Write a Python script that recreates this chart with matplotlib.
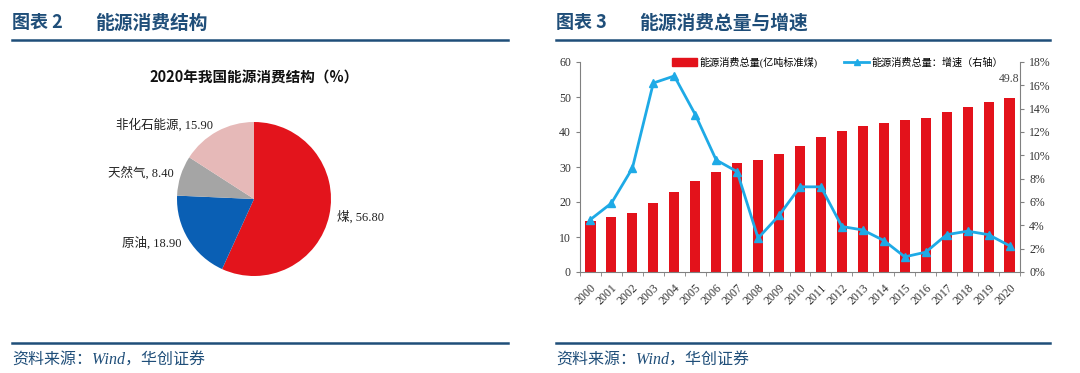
import numpy as np
import matplotlib.pyplot as plt
from matplotlib.lines import Line2D
from matplotlib.patches import Patch
from matplotlib.ticker import FuncFormatter, MultipleLocator

# Pie data: 2020 energy consumption structure (%)
pie_names = ['煤', '原油', '天然气', '非化石能源']
pie_values = [56.80, 18.90, 8.40, 15.90]
pie_colors = ['#E3141C', '#0A5FB4', '#A5A5A5', '#E6B9B8']

# Bar/line data: total consumption and growth
years = [str(y) for y in range(2000, 2021)]
total = [14.7, 15.6, 16.9, 19.7, 23.0, 26.1, 28.6, 31.1, 32.1, 33.6, 36.1,
         38.7, 40.2, 41.7, 42.6, 43.4, 44.1, 45.6, 47.1, 48.7, 49.8]
growth = [4.5, 5.9, 8.9, 16.2, 16.8, 13.5, 9.6, 8.6, 2.9, 4.85, 7.3,
          7.3, 3.9, 3.6, 2.7, 1.3, 1.7, 3.2, 3.5, 3.2, 2.25]

W, H = 1080, 373
NAVY = '#1F4E79'
CJK = ['Noto Sans CJK SC', 'DejaVu Sans']
SERIF = ['Liberation Serif', 'Noto Sans CJK SC']

fig = plt.figure(figsize=(W / 100, H / 100), dpi=100)


def fx(px):
    return px / W


def fy(py):
    return 1 - py / H


# Panel headers, rules and sources
for x0, x1, num, title in [(12, 508, '图表 2', '能源消费结构'),
                           (556, 1050, '图表 3', '能源消费总量与增速')]:
    fig.text(fx(x0), fy(23), num, fontsize=13, weight='bold', color=NAVY,
             family=CJK, va='center')
    fig.text(fx(x0 + 83), fy(23), title, fontsize=13.5, weight='bold',
             color=NAVY, family=CJK, va='center')
    for yy in (39.5, 342.5):
        fig.add_artist(Line2D([fx(x0), fx(x1)], [fy(yy), fy(yy)],
                              transform=fig.transFigure, color=NAVY, lw=1.8))
    fig.text(fx(x0), fy(361), '资料来源：Wind，华创证券', fontsize=11.5,
             style='italic', color=NAVY, family=SERIF, va='center')

# Pie chart
cx, cy, r = 254, 199, 77
axp = fig.add_axes([fx(cx - r), fy(cy + r), (2 * r) / W, (2 * r) / H])
labels = [f'{n}, {v:.2f}' for n, v in zip(pie_names, pie_values)]
axp.pie(pie_values, colors=pie_colors, startangle=90, counterclock=False,
        labels=labels, labeldistance=1.1,
        textprops=dict(fontsize=9, family=SERIF, color='#222222'))
axp.set_xlim(-1, 1)
axp.set_ylim(-1, 1)
axp.set_aspect('equal')
fig.text(fx(254), fy(78), '2020年我国能源消费结构（%）', fontsize=10.5,
         weight='bold', family=CJK, ha='center', va='center', color='#111111')

# Bar + line chart
ax = fig.add_axes([fx(580), fy(272), (1020 - 580) / W, (272 - 62) / H])
x = np.arange(len(years))
ax.bar(x, total, width=0.48, color='#E3121B', zorder=2)
ax.set_xlim(-0.5, len(years) - 0.5)
ax.set_ylim(0, 60)
ax.yaxis.set_major_locator(MultipleLocator(10))
ax.set_xticks(x)
ax.set_xticklabels(years, rotation=45, ha='right', rotation_mode='anchor',
                   fontsize=8.5, family=SERIF, color='#333333')
ax.set_xticks(np.arange(-0.5, len(years), 1), minor=True)
ax.tick_params(axis='x', which='major', length=0, pad=7)
ax.tick_params(axis='x', which='minor', length=3, color='#808080')
ax.tick_params(axis='y', length=3, color='#808080', labelsize=8.5,
               labelcolor='#333333')
for lab in ax.get_yticklabels():
    lab.set_family(SERIF)
for s in ('top', 'right'):
    ax.spines[s].set_visible(False)
for s in ('left', 'bottom'):
    ax.spines[s].set_color('#808080')
ax.annotate(f'{total[-1]}', (x[-1], total[-1]), xytext=(0, 9),
            textcoords='offset points', ha='center', va='bottom',
            fontsize=8.5, family=SERIF, color='#444444')

ax2 = ax.twinx()
ax2.plot(x, growth, color='#1EAAE6', lw=2, marker='^', ms=6, zorder=3)
ax2.set_ylim(0, 18)
ax2.yaxis.set_major_locator(MultipleLocator(2))
ax2.yaxis.set_major_formatter(FuncFormatter(lambda v, p: f'{v:.0f}%'))
ax2.tick_params(axis='y', length=3, color='#808080', labelsize=8.5,
                labelcolor='#333333')
for lab in ax2.get_yticklabels():
    lab.set_family(SERIF)
for s in ('top', 'left', 'bottom'):
    ax2.spines[s].set_visible(False)
ax2.spines['right'].set_color('#808080')

handles = [Patch(color='#E3121B'),
           Line2D([], [], color='#1EAAE6', lw=2, marker='^', ms=5)]
ax2.legend(handles, ['能源消费总量(亿吨标准煤)', '能源消费总量：增速（右轴）'],
           loc='upper left', bbox_to_anchor=(0.2, 1.045), ncol=2,
           frameon=False, prop=dict(family=SERIF, size=7.3),
           handlelength=2.5, handleheight=0.8, handletextpad=0.2,
           columnspacing=2.6, borderaxespad=0)

fig.savefig('out.png', dpi=100)
